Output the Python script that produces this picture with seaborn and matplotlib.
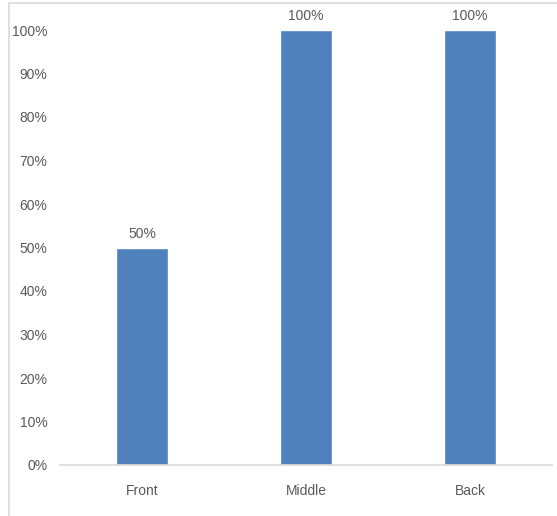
import matplotlib
matplotlib.use("Agg")
import matplotlib.pyplot as plt
import seaborn as sns
import pandas as pd
from matplotlib.ticker import PercentFormatter

# data
positions = ["Front", "Middle", "Back"]
shares = [0.50, 1.00, 1.00]
bar_labels = ["50%", "100%", "100%"]

sns.set_style("white")
plt.rcParams['font.family'] = ['Liberation Sans Narrow', 'Liberation Sans', 'DejaVu Sans']

df = pd.DataFrame({"Position": positions, "Share": shares})

fig = plt.figure(figsize=(5.57, 5.16), dpi=100)
ax = fig.add_axes([60 / 557, 1 - 465 / 516, 492 / 557, 435 / 516])

sns.barplot(data=df, x="Position", y="Share", color="#4F81BD", saturation=1,
            width=0.32, ax=ax)

ax.set_ylim(0, 1)
ax.set_yticks([i / 10 for i in range(11)])
ax.yaxis.set_major_formatter(PercentFormatter(1.0, decimals=0))
ax.set_xlabel("")
ax.set_ylabel("")

text_color = "#595959"
ax.tick_params(axis="both", length=0, labelsize=10, colors=text_color)
ax.tick_params(axis="y", pad=9)
ax.tick_params(axis="x", pad=14)

for side in ["top", "right", "left"]:
    ax.spines[side].set_visible(False)
ax.spines["bottom"].set_color("#D9D9D9")
ax.spines["bottom"].set_linewidth(1.2)

for container in ax.containers:
    ax.bar_label(container, labels=bar_labels, padding=5, fontsize=10,
                 color=text_color)

# outer chart border (top and left edges visible in the crop)
fig.add_artist(plt.Line2D([9 / 557, 1], [1 - 3 / 516, 1 - 3 / 516],
                          color="#D9D9D9", lw=1.2, transform=fig.transFigure))
fig.add_artist(plt.Line2D([9 / 557, 9 / 557], [0, 1 - 3 / 516],
                          color="#D9D9D9", lw=1.2, transform=fig.transFigure))

fig.savefig("out.png", dpi=100)
